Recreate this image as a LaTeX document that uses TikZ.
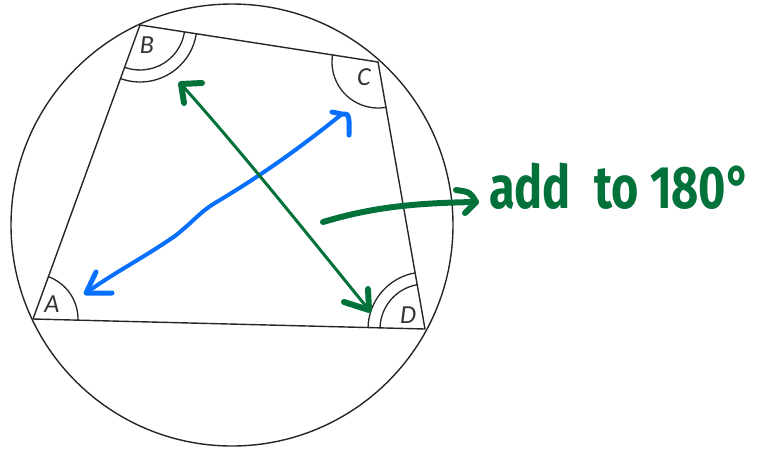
\documentclass[tikz,border=0pt]{standalone}
\usepackage{fontspec}
\setmainfont{Carlito}
\newfontfamily\handfont{Fira Sans}
\usetikzlibrary{angles}
\definecolor{penblue}{RGB}{8,112,255}
\definecolor{pengreen}{RGB}{2,114,58}
\tikzset{
  geo/.style={line width=1.4pt, black!85},
  anglearc/.style={draw, line width=1.3pt, black!85},
  bluepen/.style={line width=4pt, penblue, line cap=round, line join=round},
  greenpen/.style={line width=3pt, pengreen, line cap=round, line join=round},
  greenhead/.style={line width=6pt, pengreen, line cap=round, line join=round},
  vlabel/.style={font=\fontsize{26}{26}\selectfont\itshape, text=black!80, inner sep=0pt}
}
\begin{document}
\begin{tikzpicture}[x=1pt,y=-1pt]
\useasboundingbox (0,0) rectangle (757,448);
% circle and quadrilateral
\coordinate (O) at (232,225);
\draw[geo] (O) circle[radius=221];
\coordinate (A) at (33,319);
\coordinate (B) at (140,25);
\coordinate (C) at (378,62);
\coordinate (D) at (425,329);
\draw[geo, line join=round] (A) -- (B) -- (C) -- (D) -- cycle;
% angle arcs
\pic[anglearc, angle radius=45] {angle = D--A--B};
\pic[anglearc, angle radius=45] {angle = A--B--C};
\pic[anglearc, angle radius=57] {angle = A--B--C};
\pic[anglearc, angle radius=46] {angle = B--C--D};
\pic[anglearc, angle radius=45] {angle = C--D--A};
\pic[anglearc, angle radius=57] {angle = C--D--A};
% labels
\node[vlabel] (lA) at (52,304) {A};
\node[vlabel] (lB) at (147,45) {B};
\node[vlabel] (lC) at (364,77) {C};
\node[vlabel] (lD) at (408,315) {D};
% blue double arrow
\coordinate (b1) at (86,293);
\coordinate (b2) at (342,114);
\draw[bluepen] (b1) .. controls (115,272) and (140,260) .. (175,236)
  .. controls (195,220) and (200,212) .. (215,203)
  .. controls (245,185) and (285,160) .. (b2);
\coordinate (b1a) at (96,272);
\coordinate (b1b) at (112,293);
\draw[line width=5pt, penblue, line cap=round, line join=round] (b1a) -- (b1) -- (b1b);
\coordinate (b2a) at (332,112);
\coordinate (b2b) at (349,135);
\draw[line width=5pt, penblue, line cap=round, line join=round] (b2a) -- (b2) .. controls (348,114) .. (349,121) -- (b2b);
% green double arrow
\coordinate (g1) at (181,84);
\coordinate (g2) at (369,310);
\draw[greenpen] (g1) .. controls (240,150) and (300,225) .. (g2);
\coordinate (g1a) at (202,83);
\coordinate (g1b) at (184,103);
\draw[greenhead] (g1a) -- (g1) -- (g1b);
\coordinate (g2a) at (368,289);
\coordinate (g2b) at (344,302);
\draw[greenhead] (g2a) -- (g2) -- (g2b);
% green pointer arrow
\coordinate (p1) at (323,222);
\coordinate (p2) at (476,202);
\draw[line width=6pt, pengreen, line cap=round] (p1) .. controls (370,208) and (410,203) .. (p2);
\coordinate (p2a) at (456,190);
\coordinate (p2b) at (465,213);
\draw[greenhead] (p2a) .. controls (470,192) .. (p2) -- (p2b);
% handwritten note
\node[anchor=base west, inner sep=0pt, xscale=0.78, text=pengreen, font=\handfont\bfseries\fontsize{60}{60}\selectfont] (note) at (489,208) {add\hspace{30pt}to 180°};
\end{tikzpicture}
\end{document}
